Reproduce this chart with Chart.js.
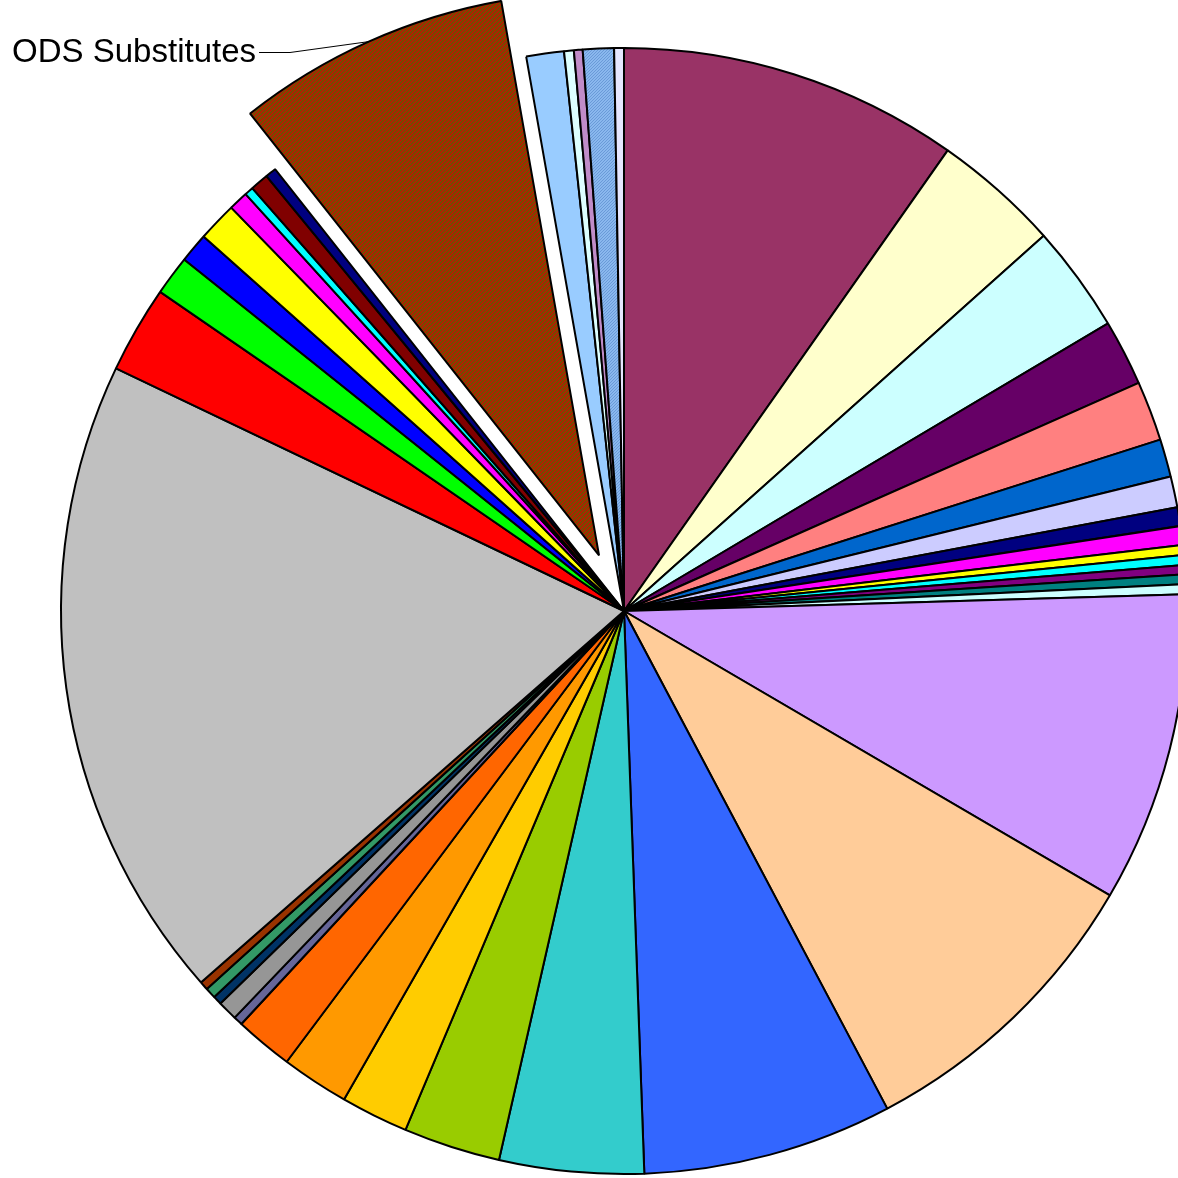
<!DOCTYPE html>
<html>
<head>
<meta charset="utf-8">
<script src="https://cdn.jsdelivr.net/npm/chart.js@4"></script>
<style>
  html, body { margin: 0; padding: 0; background: #fff; }
  #wrap { width: 1178px; height: 1178px; position: relative; }
</style>
</head>
<body>
<div id="wrap"><canvas id="chart"></canvas></div>
<script>
// Parts du total (%), dans l'ordre des aiguilles d'une montre depuis midi
const categories = [
    "Source 1", "Source 2", "Source 3", "Source 4", "Source 5", "Source 6", "Source 7",
    "Source 8", "Source 9", "Source 10", "Source 11", "Source 12", "Source 13", "Source 14",
    "Source 15", "Source 16", "Source 17", "Source 18", "Source 19", "Source 20", "Source 21",
    "Source 22", "Source 23", "Source 24", "Source 25", "Source 26", "Source 27", "Source 28",
    "Source 29", "Source 30", "Source 31", "Source 32", "Source 33", "Source 34", "Source 35",
    "Source 36", "ODS Substitutes", "Source 38", "Source 39", "Source 40", "Source 41", "Source 42"
];
const shares = [
    9.75, 3.64, 3.08, 1.89, 1.72, 1.08, 0.89,
    0.54, 0.54, 0.28, 0.29, 0.26, 0.28, 0.29,
    8.90, 8.83, 7.17, 4.14, 2.78, 1.94, 1.94,
    1.67, 0.26, 0.57, 0.25, 0.31, 0.25, 18.56,
    2.50, 1.14, 0.85, 1.13, 0.56, 0.25, 0.53,
    0.31, 7.86, 1.08, 0.28, 0.25, 0.89, 0.28
];
const labelled = ["ODS Substitutes"]; // part détachée et étiquetée

// Petits motifs hachurés
function hatch(base, line, size) {
    const c = document.createElement("canvas");
    c.width = c.height = size;
    const g = c.getContext("2d");
    g.fillStyle = base;
    g.fillRect(0, 0, size, size);
    g.fillStyle = line;
    for (let i = 0; i < size; i++) g.fillRect(i, size - 1 - i, 1, 1);
    return g.createPattern(c, "repeat");
}

const colors = [
    "#993366", "#FFFFCC", "#CCFFFF", "#660066", "#FF8080", "#0066CC", "#CCCCFF",
    "#000080", "#FF00FF", "#FFFF00", "#00FFFF", "#800080", "#008080", "#CCFFFF",
    "#CC99FF", "#FFCC99", "#3366FF", "#33CCCC", "#99CC00", "#FFCC00", "#FF9900",
    "#FF6600", "#666699", "#969696", "#003366", "#339966", "#993300", "#C0C0C0",
    "#FF0000", "#00FF00", "#0000FF", "#FFFF00", "#FF00FF", "#00FFFF", "#800000",
    "#000080", hatch("#B41E00", "#2E8200", 4), "#99CCFF", "#DDFFFF", "#C08CC8",
    hatch("#8AB8EE", "#6A9AD8", 3), "#E6E6FF"
];

const explode = 61; // décalage de la part détachée, px

// Décale la part détachée sans changer son rayon (comme Excel)
const explodePlugin = {
    id: "explode",
    afterDatasetsUpdate(chart) {
        const meta = chart.getDatasetMeta(0);
        labelled.forEach(name => {
            const arc = meta.data[categories.indexOf(name)];
            if (!arc || arc._patched) return;
            const draw = arc.draw;
            arc.draw = function (ctx, area) {
                const mid = (this.startAngle + this.endAngle) / 2;
                ctx.save();
                ctx.translate(Math.cos(mid) * explode, Math.sin(mid) * explode);
                draw.call(this, ctx, area);
                ctx.restore();
            };
            arc._patched = true;
        });
    },
    afterDatasetsDraw(chart) {
        const ctx = chart.ctx;
        const meta = chart.getDatasetMeta(0);
        labelled.forEach(name => {
            const arc = meta.data[categories.indexOf(name)];
            const mid = (arc.startAngle + arc.endAngle) / 2;
            const r = arc.outerRadius;
            const ex = arc.x + Math.cos(mid) * (r + explode);
            const ey = arc.y + Math.sin(mid) * (r + explode);
            ctx.save();
            ctx.strokeStyle = "#000";
            ctx.lineWidth = 1;
            ctx.beginPath();
            ctx.moveTo(ex, ey);
            ctx.lineTo(290, 52.5);
            ctx.lineTo(259, 52.5);
            ctx.stroke();
            ctx.fillStyle = "#000";
            ctx.font = "33px 'Liberation Sans', Arial, sans-serif";
            ctx.textAlign = "right";
            ctx.textBaseline = "middle";
            ctx.fillText(name, 256, 53);
            ctx.restore();
        });
    }
};

new Chart(document.getElementById("chart"), {
    type: "pie",
    data: {
        labels: categories,
        datasets: [{
            data: shares,
            backgroundColor: colors,
            borderColor: "#000",
            borderWidth: 2
        }]
    },
    options: {
        responsive: true,
        maintainAspectRatio: false,
        animation: false,
        radius: 563,
        clip: false,
        layout: { padding: { left: 70, top: 44, right: 0, bottom: 0 } },
        plugins: {
            legend: { display: false },
            tooltip: { enabled: false }
        }
    },
    plugins: [explodePlugin]
});
</script>
</body>
</html>
